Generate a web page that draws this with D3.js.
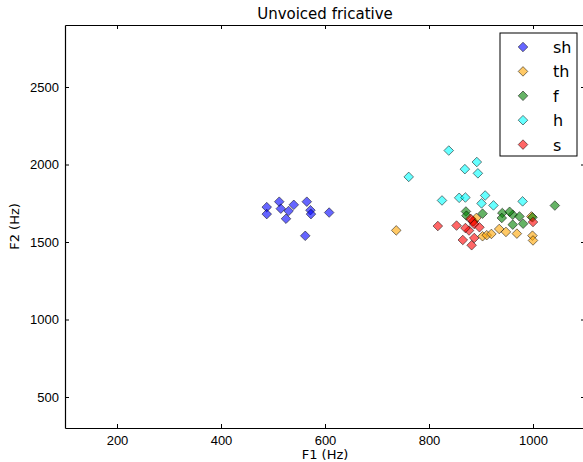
<!DOCTYPE html>
<html>
<head>
<meta charset="utf-8">
<script src="https://cdn.jsdelivr.net/npm/d3@7"></script>
<style>
  body { margin: 0; background: #fff; }
  svg { font-family: "DejaVu Sans", sans-serif; }
  .axis path { stroke: #000; }
  .axis line { stroke: #000; }
  .axis text { font-size: 13px; fill: #000; }
</style>
</head>
<body>
<div id="chart"></div>
<script>
// Series: [F1, F2] in Hz
var sh = [[488,1725],[488,1680],[512,1760],[515,1715],[525,1650],[530,1700],
          [540,1740],[565,1760],[572,1705],[573,1680],[562,1540],[608,1690]];
var th = [[737,1575],[886,1633],[891,1655],[903,1537],[911,1544],[920,1552],
          [935,1584],[948,1565],[969,1554],[997,1665],[999,1541],[1000,1510]];
var f  = [[871,1697],[872,1670],[903,1683],[941,1687],[961,1676],[974,1665],
          [940,1655],[961,1612],[981,1618],[999,1659],[1042,1735],[955,1695]];
var h  = [[761,1920],[838,2090],[892,2016],[869,1970],[894,1943],[825,1768],
          [858,1785],[870,1787],[908,1800],[901,1749],[924,1736],[980,1762]];
var s  = [[817,1603],[853,1606],[884,1633],[887,1616],[877,1574],[870,1590],
          [897,1595],[865,1513],[887,1526],[882,1479],[1000,1629],[880,1650]];

var seriesNames = ["sh", "th", "f", "h", "s"];
var seriesColors = ["#0000ff", "#ffa500", "#008000", "#00ffff", "#ff0000"];
var seriesData = [sh, th, f, h, s];

var xTicks = [200, 400, 600, 800, 1000];
var yTicks = [500, 1000, 1500, 2000, 2500];

var W = 583, H = 462;
var margin = {top: 25, right: -2, bottom: 34, left: 65};
var width = W - margin.left - margin.right,
    height = H - margin.top - margin.bottom;

var xScale = d3.scaleLinear().domain([100, 1100]).range([0, width]);
var yScale = d3.scaleLinear().domain([300, 2900]).range([height, 0]);

var svg = d3.select("#chart").append("svg")
  .attr("width", W)
  .attr("height", H);

var g = svg.append("g")
  .attr("transform", "translate(" + margin.left + "," + margin.top + ")");

// axes, ticks pointing inward like matplotlib classic
var fmt = d3.format("d");
var xAxis = d3.axisBottom(xScale).tickValues(xTicks).tickFormat(fmt).tickSizeInner(-4).tickSizeOuter(0).tickPadding(8);
var yAxis = d3.axisLeft(yScale).tickValues(yTicks).tickFormat(fmt).tickSizeInner(-4).tickSizeOuter(0).tickPadding(6);
var xAxisTop = d3.axisTop(xScale).tickValues(xTicks).tickSizeInner(-4).tickSizeOuter(0).tickFormat("");
var yAxisRight = d3.axisRight(yScale).tickValues(yTicks).tickSizeInner(-4).tickSizeOuter(0).tickFormat("");

g.append("g").attr("class", "axis").attr("transform", "translate(0," + height + ")").call(xAxis);
g.append("g").attr("class", "axis").call(yAxis);
g.append("g").attr("class", "axis").call(xAxisTop);
g.append("g").attr("class", "axis").attr("transform", "translate(" + width + ",0)").call(yAxisRight);

g.selectAll(".axis path").attr("stroke-width", 1.2);

// diamonds
var diamond = d3.symbol().type(d3.symbolSquare).size(46);

seriesData.forEach(function(data, i) {
  g.append("g").selectAll("path")
    .data(data)
    .enter().append("path")
    .attr("d", diamond)
    .attr("transform", function(d) {
      return "translate(" + xScale(d[0]) + "," + yScale(d[1]) + ") rotate(45)";
    })
    .attr("fill", seriesColors[i])
    .attr("fill-opacity", 0.6)
    .attr("stroke", "#000")
    .attr("stroke-opacity", 0.6)
    .attr("stroke-width", 0.8);
});

// title and axis labels
svg.append("text")
  .attr("x", margin.left + width / 2)
  .attr("y", 19)
  .attr("text-anchor", "middle")
  .style("font-size", "15px")
  .text("Unvoiced fricative");

svg.append("text")
  .attr("x", margin.left + width / 2)
  .attr("y", 459)
  .attr("text-anchor", "middle")
  .style("font-size", "13px")
  .text("F1 (Hz)");

svg.append("text")
  .attr("transform", "translate(19," + (margin.top + height / 2) + ") rotate(-90)")
  .attr("text-anchor", "middle")
  .style("font-size", "13px")
  .text("F2 (Hz)");

// legend
var legend = svg.append("g").attr("transform", "translate(500,33)");
legend.append("rect")
  .attr("width", 77)
  .attr("height", 123)
  .attr("fill", "#fff")
  .attr("stroke", "#000")
  .attr("stroke-width", 1);

seriesNames.forEach(function(name, i) {
  var yy = 14 + i * 24.4;
  legend.append("path")
    .attr("d", diamond)
    .attr("transform", "translate(23," + yy + ") rotate(45)")
    .attr("fill", seriesColors[i])
    .attr("fill-opacity", 0.6)
    .attr("stroke", "#000")
    .attr("stroke-opacity", 0.6)
    .attr("stroke-width", 0.8);
  legend.append("text")
    .attr("x", 53)
    .attr("y", yy + 6)
    .style("font-size", "16px")
    .text(name);
});
</script>
</body>
</html>
